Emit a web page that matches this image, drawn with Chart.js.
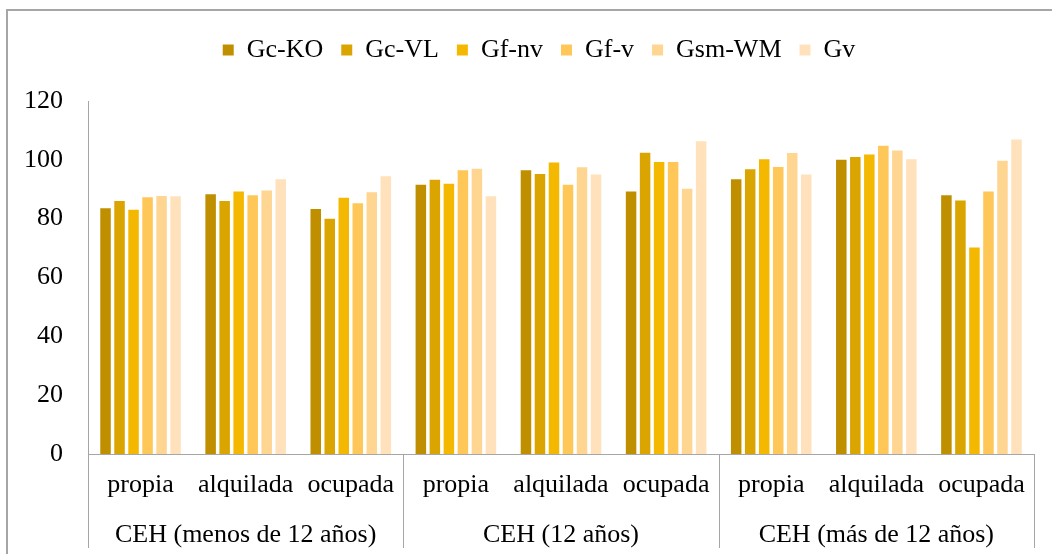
<!DOCTYPE html>
<html>
<head>
<meta charset="utf-8">
<script src="https://cdn.jsdelivr.net/npm/chart.js@4/dist/chart.umd.min.js"></script>
<style>
  html, body { margin: 0; padding: 0; background: #fff; overflow: hidden; width: 1052px; height: 554px; }
  #wrap { position: absolute; left: 0; top: 0; width: 1052px; height: 554px; }
</style>
</head>
<body>
<div id="wrap"><canvas id="c" width="1052" height="554"></canvas></div>
<script>
const categories = ['propia', 'alquilada', 'ocupada', 'propia', 'alquilada', 'ocupada', 'propia', 'alquilada', 'ocupada'];
const groups = ['CEH (menos de 12 años)', 'CEH (12 años)', 'CEH (más de 12 años)'];
const seriesNames = ['Gc-KO', 'Gc-VL', 'Gf-nv', 'Gf-v', 'Gsm-WM', 'Gv'];
const gcKO  = [83.5, 88.3, 83.3, 91.5, 96.5, 89.2, 93.4, 100.0, 88.0];
const gcVL  = [86.0, 86.0, 80.0, 93.2, 95.2, 102.4, 96.8, 101.0, 86.2];
const gfNv  = [83.0, 89.2, 87.1, 91.9, 99.1, 99.3, 100.2, 101.8, 70.2];
const gfV   = [87.3, 88.0, 85.2, 96.5, 91.5, 99.3, 97.6, 104.8, 89.2];
const gsmWM = [87.7, 89.6, 89.0, 97.0, 97.5, 90.2, 102.3, 103.2, 99.7];
const gv    = [87.6, 93.4, 94.4, 87.6, 95.0, 106.3, 95.0, 100.2, 106.9];
const yTicks = [0, 20, 40, 60, 80, 100, 120];
const colors = ['#BF8F00', '#DAA500', '#F5B800', '#FFC658', '#FFD592', '#FFE2BC'];
const seriesData = [gcKO, gcVL, gfNv, gfV, gsmWM, gv];

const FONT = 'Liberation Serif, Times New Roman, serif';
const FS = 26;
const AXIS = '#a6a6a6';

const legendSpace = {
  id: 'legendSpace',
  beforeInit(chart) {
    const legend = chart.legend;
    if (!legend) return;
    const orig = legend.fit;
    legend.fit = function () {
      orig.call(this);
      this.height = 82;
    };
  },
  afterLayout(chart) {
    const legend = chart.legend;
    if (!legend) return;
    legend.left += 22;
    legend.right += 22;
  }
};

const frameAndSeparators = {
  id: 'frameAndSeparators',
  beforeDraw(chart) {
    const ctx = chart.ctx;
    ctx.save();
    ctx.strokeStyle = '#a6a6a6';
    ctx.lineWidth = 2;
    ctx.beginPath();
    ctx.moveTo(7, chart.height);
    ctx.lineTo(7, 10);
    ctx.lineTo(chart.width, 10);
    ctx.stroke();
    ctx.restore();
  },
  afterDraw(chart) {
    const x = chart.scales.x;
    const ctx = chart.ctx;
    ctx.save();
    ctx.strokeStyle = AXIS;
    ctx.lineWidth = 1;
    const n = categories.length;
    const per = n / groups.length;
    for (let g = 0; g <= groups.length; g++) {
      const px = Math.round(x.getPixelForValue(g * per - 0.5)) + 0.5;
      ctx.beginPath();
      ctx.moveTo(px, x.top);
      ctx.lineTo(px, chart.scales.x2.bottom);
      ctx.stroke();
    }
    ctx.restore();
  }
};

new Chart(document.getElementById('c'), {
  type: 'bar',
  data: {
    labels: categories,
    datasets: seriesNames.map((name, i) => ({
      label: name,
      data: seriesData[i],
      backgroundColor: colors[i],
      borderWidth: 0,
      categoryPercentage: 0.8,
      barPercentage: 0.75,
      xAxisID: 'x',
      yAxisID: 'y'
    }))
  },
  options: {
    responsive: false,
    devicePixelRatio: 1,
    animation: false,
    layout: { padding: { left: 0, right: 18, top: 19, bottom: 6 } },
    plugins: {
      legend: {
        position: 'top',
        labels: {
          boxWidth: 11,
          boxHeight: 11,
          padding: 18,
          color: '#000',
          font: { family: FONT, size: FS }
        }
      },
      tooltip: { enabled: false }
    },
    scales: {
      y: {
        min: 0,
        max: 120,
        afterBuildTicks(scale) { scale.ticks = yTicks.map(v => ({ value: v })); },
        afterFit(scale) { scale.width = 88; },
        grid: { display: false, drawTicks: false },
        border: { display: true, color: AXIS, width: 1 },
        ticks: { color: '#000', padding: 25, font: { family: FONT, size: FS } }
      },
      x: {
        type: 'category',
        position: 'bottom',
        offset: true,
        grid: { display: false, drawTicks: false },
        border: { display: true, color: AXIS, width: 1 },
        afterFit(scale) { scale.height = 46; },
        ticks: { color: '#000', padding: 16, maxRotation: 0, autoSkip: false, font: { family: FONT, size: FS } }
      },
      x2: {
        type: 'category',
        position: 'bottom',
        labels: groups,
        offset: true,
        grid: { display: false, drawTicks: false },
        border: { display: false },
        afterFit(scale) { scale.height = 48; },
        ticks: { color: '#000', padding: 20, maxRotation: 0, autoSkip: false, font: { family: FONT, size: FS } }
      }
    }
  },
  plugins: [legendSpace, frameAndSeparators]
});
</script>
</body>
</html>
